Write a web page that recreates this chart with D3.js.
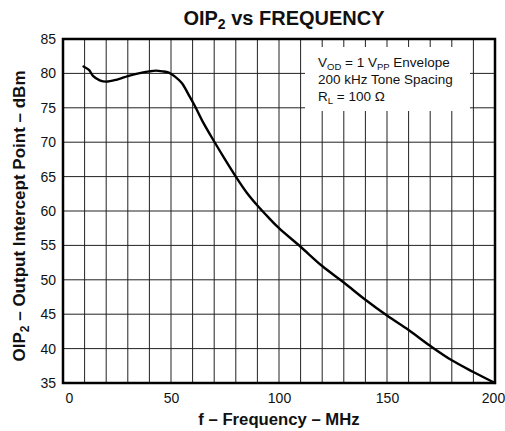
<!DOCTYPE html>
<html><head><meta charset="utf-8">
<script src="https://cdn.jsdelivr.net/npm/d3@7"></script>
<style>
html,body{margin:0;padding:0;background:#fff;}
svg{display:block;font-family:Arial,"Liberation Sans",sans-serif;}
</style></head>
<body>
<svg id="chart" width="505" height="431"></svg>
<script>
// ---- data ----
const freqMHz = [9.5, 12, 14, 17, 20, 25, 30, 35, 40, 43, 46, 49, 52, 55, 58, 61, 65, 70, 75, 80, 85, 90, 95, 100, 110, 120, 130, 140, 150, 160, 170, 180, 190, 200];
const oip2dBm = [81.0, 80.5, 79.6, 79.0, 78.8, 79.1, 79.6, 80.0, 80.3, 80.4, 80.3, 80.1, 79.5, 78.6, 77.0, 75.3, 72.8, 70.1, 67.5, 65.0, 62.7, 60.8, 59.1, 57.5, 54.8, 52.0, 49.6, 47.1, 44.8, 42.7, 40.4, 38.3, 36.6, 35.0];
const xTickLabels = [0, 50, 100, 150, 200];
const yTickLabels = [35, 40, 45, 50, 55, 60, 65, 70, 75, 80, 85];
const xGrid = d3.range(0, 201, 10);
const titleText = ["OIP", "2", " vs FREQUENCY"];
const xLabelText = "f \u2013 Frequency \u2013 MHz";
const yLabelText = ["OIP", "2", " \u2013 Output Intercept Point \u2013 dBm"];
const noteLines = [
  [["V",0],["OD",1],[" = 1 V",0],["PP",1],[" Envelope",0]],
  [["200 kHz Tone Spacing",0]],
  [["R",0],["L",1],[" = 100 \u03A9",0]]
];

// ---- layout ----
const svg = d3.select("#chart");
const L = 63, R = 495, T = 39, B = 383;
const x = d3.scaleLinear().domain([0, 200]).range([L, R]);
const y = d3.scaleLinear().domain([35, 85]).range([B, T]);

// grid
const g = svg.append("g");
g.selectAll(".vg").data(xGrid).join("line")
  .attr("x1", d => x(d)).attr("x2", d => x(d)).attr("y1", T).attr("y2", B)
  .attr("stroke", "#222").attr("stroke-width", 1);
g.selectAll(".hg").data(yTickLabels).join("line")
  .attr("x1", L).attr("x2", R).attr("y1", d => y(d)).attr("y2", d => y(d))
  .attr("stroke", "#222").attr("stroke-width", 1);

// note box (white background over grid)
svg.append("rect").attr("x", 305).attr("y", 47).attr("width", 165).attr("height", 64).attr("fill", "#fff");
noteLines.forEach((line, i) => {
  const t = svg.append("text").attr("x", 318).attr("y", 67 + i * 17).attr("font-size", 13.5).attr("fill", "#111");
  let prevSub = false;
  line.forEach(([s, sub]) => {
    const ts = t.append("tspan").text(s);
    if (sub) { ts.attr("font-size", 9.5).attr("dy", 3); }
    else if (prevSub) { ts.attr("dy", -3); }
    prevSub = !!sub;
  });
});

// curve
const pts = freqMHz.map((f, i) => [f, oip2dBm[i]]);
svg.append("path").datum(pts)
  .attr("fill", "none").attr("stroke", "#000").attr("stroke-width", 2.4)
  .attr("stroke-linejoin", "round").attr("stroke-linecap", "round")
  .attr("d", d3.line().x(d => x(d[0])).y(d => y(d[1])).curve(d3.curveCatmullRom.alpha(0.5)));

// border
svg.append("rect").attr("x", L).attr("y", T).attr("width", R - L).attr("height", B - T)
  .attr("fill", "none").attr("stroke", "#000").attr("stroke-width", 2.5);

// axes
const xAxis = svg.append("g").attr("transform", `translate(0,${B})`)
  .call(d3.axisBottom(x).tickValues(xTickLabels).tickSize(0).tickPadding(10).tickFormat(d3.format("d")));
const yAxis = svg.append("g").attr("transform", `translate(${L},0)`)
  .call(d3.axisLeft(y).tickValues(yTickLabels).tickSize(0).tickPadding(7).tickFormat(d3.format("d")));
[xAxis, yAxis].forEach(a => {
  a.select(".domain").remove();
  a.selectAll("text").attr("font-size", 14).attr("font-family", "Arial, 'Liberation Sans', sans-serif").attr("fill", "#111");
});
// first x label sits slightly right of its line; last one kept inside the frame
xAxis.selectAll("text").filter(d => d === 0).attr("dx", 6);
xAxis.selectAll("text").filter(d => d === 200).attr("dx", -2);

// title
const title = svg.append("text").attr("x", 284).attr("y", 25).attr("text-anchor", "middle")
  .attr("font-size", 20).attr("font-weight", "bold").attr("fill", "#111");
title.append("tspan").text(titleText[0]);
title.append("tspan").text(titleText[1]).attr("font-size", 14).attr("dy", 4);
title.append("tspan").text(titleText[2]).attr("dy", -4);

// x label
svg.append("text").attr("x", 279).attr("y", 425).attr("text-anchor", "middle")
  .attr("font-size", 16.7).attr("font-weight", "bold").attr("fill", "#111").text(xLabelText);

// y label
const yl = svg.append("text").attr("transform", "translate(25,216) rotate(-90)").attr("text-anchor", "middle")
  .attr("font-size", 17).attr("font-weight", "bold").attr("fill", "#111");
yl.append("tspan").text(yLabelText[0]);
yl.append("tspan").text(yLabelText[1]).attr("font-size", 12).attr("dy", 3.5);
yl.append("tspan").text(yLabelText[2]).attr("dy", -3.5);
</script>
</body></html>
